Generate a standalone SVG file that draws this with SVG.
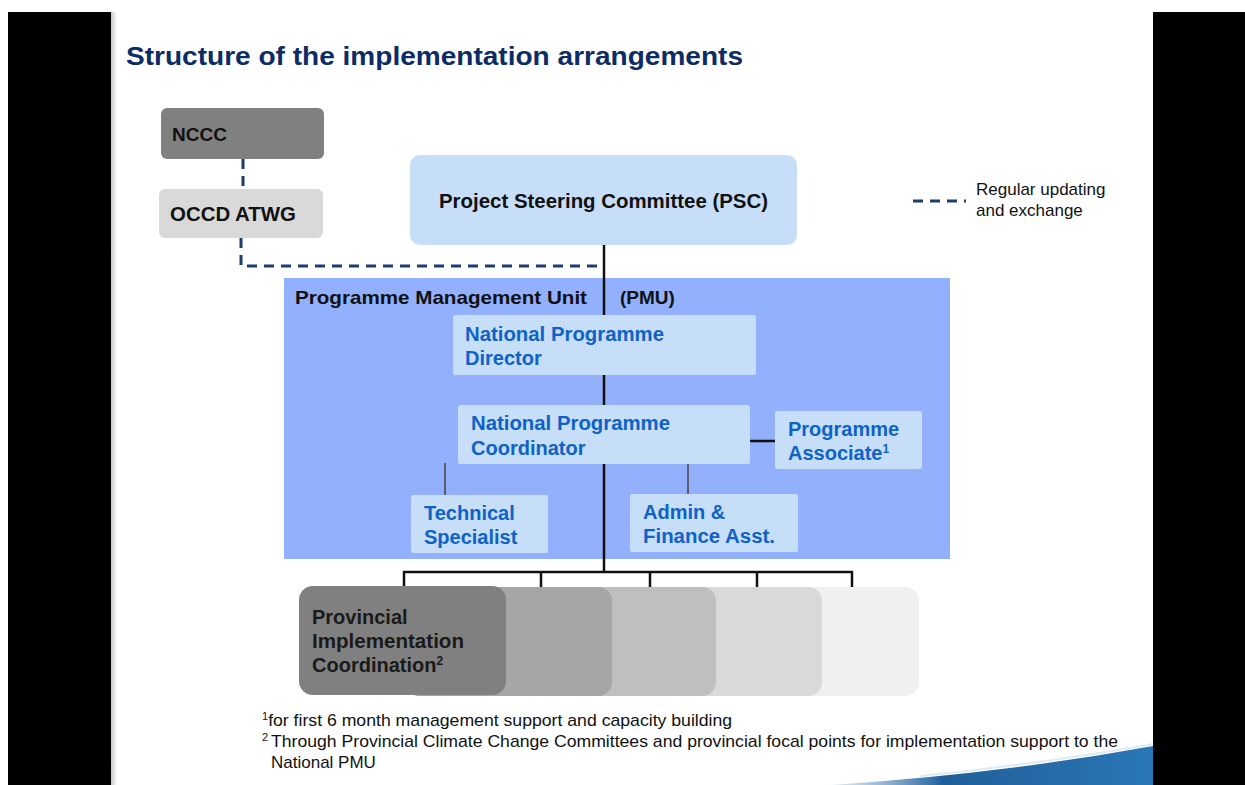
<svg xmlns="http://www.w3.org/2000/svg" width="1245" height="785" viewBox="0 0 1245 785">
<defs>
<style>
text{font-family:"Liberation Sans",Arial,sans-serif}
.b{font-weight:bold}
.dk{fill:#111}
.bl{fill:#0f62c6;font-weight:bold;font-size:20px}
.lb{fill:#c6def8}
.dash{fill:none;stroke:#1c3d6e;stroke-width:3;stroke-dasharray:10,7}
.solid{fill:none;stroke:#111;stroke-width:2.5}
.thin{fill:none;stroke:#444;stroke-width:1.5}
.fn{font-size:17px;fill:#111}
</style>
<linearGradient id="edge" x1="0" x2="1" y1="0" y2="0">
<stop offset="0" stop-color="#c8c8c8"/><stop offset="1" stop-color="#ffffff"/>
</linearGradient>
<linearGradient id="swoosh" x1="0" x2="1" y1="0" y2="0">
<stop offset="0" stop-color="#6a9cc8" stop-opacity="0.2"/><stop offset="0.35" stop-color="#1f5f9a"/><stop offset="1" stop-color="#2a77b5"/>
</linearGradient>
</defs>
<rect width="1245" height="785" fill="#ffffff"/>
<rect x="8" y="12" width="103" height="773" fill="#000"/>
<rect x="1153" y="12" width="92" height="773" fill="#000"/>
<rect x="111" y="12" width="6" height="773" fill="url(#edge)"/>
<path d="M 830 785 Q 1000 774 1153 746 L 1153 785 Z" fill="url(#swoosh)"/>
<path d="M 920 776 Q 1040 764 1153 744" fill="none" stroke="#d5e6f4" stroke-width="2" opacity="0.8"/>

<text x="126" y="65" class="b" font-size="26" fill="#0c2c66" textLength="617" lengthAdjust="spacingAndGlyphs">Structure of the implementation arrangements</text>

<g id="pmu">
<rect x="284" y="278" width="666" height="281" fill="#92b0fc"/>
<text x="295" y="304" class="b dk" font-size="19" textLength="292" lengthAdjust="spacingAndGlyphs">Programme Management Unit</text>
<text x="620" y="304" class="b dk" font-size="19">(PMU)</text>
</g>

<g id="connectors">
<path class="dash" d="M243 159 V189"/>
<path class="dash" d="M241 238 V266 H603"/>
<path class="solid" d="M604 244 V315"/>
<path class="solid" d="M604 374 V405"/>
<path class="solid" d="M749 441 H775" stroke-width="3"/>
<path class="thin" d="M445 463 V495"/>
<path class="thin" d="M688 463 V494"/>
<path class="solid" d="M604 463 V572"/>
<path class="solid" stroke-width="2" d="M404 588 V572 H852 V588 M541 572 V588 M650 572 V588 M757 572 V588"/>
</g>

<g id="nccc">
<rect x="161" y="108" width="163" height="51" rx="6" fill="#808080"/>
<text x="172" y="141" class="b dk" font-size="19">NCCC</text>
</g>
<g id="occd">
<rect x="159" y="189" width="164" height="49" rx="6" fill="#d9d9d9"/>
<text x="170" y="221" class="b dk" font-size="20" textLength="126" lengthAdjust="spacingAndGlyphs">OCCD ATWG</text>
</g>
<g id="psc">
<rect x="410" y="155" width="387" height="90" rx="10" class="lb"/>
<text x="439" y="208" class="b dk" font-size="20" textLength="329" lengthAdjust="spacingAndGlyphs">Project Steering Committee (PSC)</text>
</g>
<g id="npd">
<rect x="453" y="315" width="303" height="60" rx="2" class="lb"/>
<text x="465" y="341" class="bl" textLength="199" lengthAdjust="spacingAndGlyphs">National Programme</text>
<text x="465" y="365" class="bl">Director</text>
</g>
<g id="npc">
<rect x="458" y="405" width="292" height="59" rx="2" class="lb"/>
<text x="471" y="430" class="bl" textLength="199" lengthAdjust="spacingAndGlyphs">National Programme</text>
<text x="471" y="455" class="bl">Coordinator</text>
</g>
<g id="pa">
<rect x="775" y="411" width="147" height="58" rx="2" class="lb"/>
<text x="788" y="436" class="bl">Programme</text>
<text x="788" y="460" class="bl">Associate<tspan font-size="12" dy="-7">1</tspan></text>
</g>
<g id="ts">
<rect x="411" y="495" width="137" height="58" rx="2" class="lb"/>
<text x="424" y="520" class="bl">Technical</text>
<text x="424" y="544" class="bl">Specialist</text>
</g>
<g id="afa">
<rect x="630" y="494" width="168" height="58" rx="2" class="lb"/>
<text x="643" y="519" class="bl">Admin &amp;</text>
<text x="643" y="543" class="bl" textLength="132" lengthAdjust="spacingAndGlyphs">Finance Asst.</text>
</g>

<g id="provinces">
<rect x="714" y="587" width="205" height="109" rx="14" fill="#f0f0f0"/>
<rect x="614" y="587" width="208" height="109" rx="14" fill="#d9d9d9"/>
<rect x="510" y="587" width="206" height="109" rx="14" fill="#bfbfbf"/>
<rect x="405" y="587" width="207" height="109" rx="14" fill="#a6a6a6"/>
<rect x="299" y="586" width="207" height="109" rx="14" fill="#808080"/>
<text x="312" y="624" class="b" font-size="20" fill="#1a1a1a">Provincial</text>
<text x="312" y="648" class="b" font-size="20" fill="#1a1a1a" textLength="152" lengthAdjust="spacingAndGlyphs">Implementation</text>
<text x="312" y="672" class="b" font-size="20" fill="#1a1a1a">Coordination<tspan font-size="12" dy="-7">2</tspan></text>
</g>

<g id="legend">
<path class="dash" d="M913 201 H966"/>
<text x="976" y="195" font-size="17" fill="#111">Regular updating</text>
<text x="976" y="216" font-size="17" fill="#111">and exchange</text>
</g>

<g id="footnotes">
<text x="262" y="726" class="fn"><tspan font-size="11" dy="-6">1</tspan><tspan dy="6" textLength="464" lengthAdjust="spacingAndGlyphs">for first 6 month management support and capacity building</tspan></text>
<text x="262" y="747" class="fn"><tspan font-size="11" dy="-6">2</tspan><tspan x="271" dy="6" textLength="847" lengthAdjust="spacingAndGlyphs">Through Provincial Climate Change Committees and provincial focal points for implementation support to the</tspan></text>
<text x="271" y="768" class="fn">National PMU</text>
</g>
</svg>
